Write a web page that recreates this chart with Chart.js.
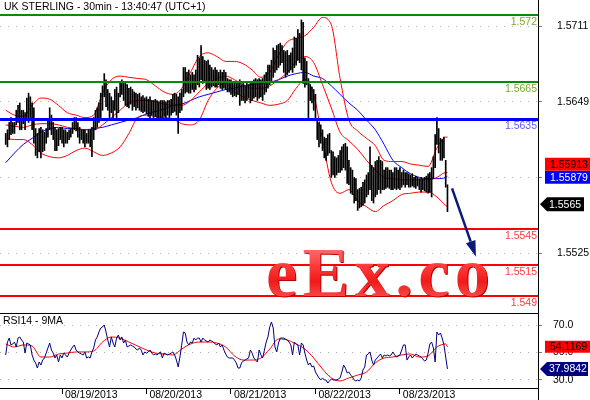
<!DOCTYPE html>
<html><head><meta charset="utf-8">
<script src="https://cdn.jsdelivr.net/npm/chart.js@4.4.0/dist/chart.umd.min.js"></script>
<style>
html,body{margin:0;padding:0;background:#fff;width:590px;height:400px;overflow:hidden;}
#wrap{position:relative;width:590px;height:400px;}
#main{position:absolute;left:0;top:0;}
#rsi{position:absolute;left:0;top:313px;}
#wm{position:absolute;left:266px;top:238px;font:bold 70px "Liberation Serif","DejaVu Serif",serif;line-height:70px;letter-spacing:5.5px;white-space:nowrap;
  background:linear-gradient(180deg,#ff8c8c 0%,#ff3b3b 40%,#f01a1a 62%,#ff6a6a 100%);-webkit-background-clip:text;background-clip:text;color:transparent;
  filter:drop-shadow(1px 1px 0 #b80000);}
</style></head>
<body><div id="wrap">
<canvas id="main" width="590" height="313"></canvas>
<canvas id="rsi" width="590" height="87"></canvas>
<div id="wm">eEx.co</div>
</div>
<script>
// ---------- DATA ----------
const chartTitle = 'UK STERLING - 30min - 13:40:47 (UTC+1)';
const rsiTitle = 'RSI14 - 9MA';
const priceMin = 1.547595, priceMax = 1.57323;
const xMin = -3.24, xMax = 302.44;
const priceTicks = [1.5711, 1.5649, 1.5587, 1.5525];
const rsiMin = 24.18, rsiMax = 78.73;
const rsiTicks = [70, 50, 30];
const dayTicks = [32, 80, 128, 176, 224];
const dayLabels = ['08/19/2013', '08/20/2013', '08/21/2013', '08/22/2013', '08/23/2013'];

const highs = [
1.5623,1.5626,1.5632,1.5636,1.5632,1.5632,1.5642,1.5646,1.5648,1.5642,
1.5642,1.5640,1.5652,1.5656,1.5653,1.5648,1.5644,1.5627,1.5623,1.5627,
1.5628,1.5626,1.5624,1.5627,1.5634,1.5644,1.5638,1.5632,1.5628,1.5626,
1.5627,1.5628,1.5628,1.5626,1.5626,1.5624,1.5626,1.5627,1.5632,1.5636,
1.5636,1.5632,1.5628,1.5626,1.5626,1.5626,1.5623,1.5626,1.5626,1.5628,
1.5636,1.5642,1.5644,1.5648,1.5656,1.5662,1.5672,1.5667,1.5659,1.5656,
1.5653,1.5650,1.5659,1.5661,1.5656,1.5665,1.5667,1.5664,1.5665,1.5663,
1.5660,1.5661,1.5659,1.5657,1.5656,1.5655,1.5656,1.5653,1.5654,1.5652,
1.5653,1.5651,1.5653,1.5650,1.5650,1.5651,1.5650,1.5649,1.5650,1.5650,
1.5650,1.5649,1.5650,1.5650,1.5651,1.5655,1.5656,1.5655,1.5653,1.5656,
1.5659,1.5677,1.5677,1.5673,1.5675,1.5671,1.5673,1.5671,1.5675,1.5687,
1.5685,1.5695,1.5686,1.5683,1.5682,1.5683,1.5679,1.5677,1.5675,1.5677,
1.5675,1.5673,1.5675,1.5673,1.5675,1.5673,1.5668,1.5667,1.5667,1.5665,
1.5665,1.5664,1.5665,1.5667,1.5663,1.5664,1.5662,1.5664,1.5663,1.5664,
1.5665,1.5667,1.5668,1.5667,1.5668,1.5667,1.5668,1.5671,1.5673,1.5679,
1.5679,1.5683,1.5693,1.5691,1.5695,1.5696,1.5697,1.5695,1.5691,1.5690,
1.5691,1.5687,1.5689,1.5693,1.5702,1.5701,1.5708,1.5705,1.5716,1.5714,
1.5685,1.5682,1.5668,1.5663,1.5661,1.5659,1.5655,1.5634,1.5632,1.5630,
1.5626,1.5620,1.5619,1.5622,1.5623,1.5609,1.5608,1.5604,1.5603,1.5605,
1.5609,1.5612,1.5614,1.5615,1.5612,1.5601,1.5595,1.5593,1.5587,1.5586,
1.5577,1.5578,1.5579,1.5583,1.5585,1.5589,1.5591,1.5612,1.5597,1.5595,
1.5600,1.5601,1.5604,1.5601,1.5600,1.5593,1.5595,1.5595,1.5593,1.5593,
1.5591,1.5595,1.5595,1.5593,1.5595,1.5591,1.5593,1.5591,1.5591,1.5590,
1.5589,1.5590,1.5587,1.5588,1.5587,1.5586,1.5587,1.5586,1.5587,1.5588,
1.5590,1.5591,1.5595,1.5604,1.5622,1.5636,1.5627,1.5619,1.5618,1.5620,
1.5601,1.5581];
const lows = [
1.5614,1.5612,1.5618,1.5622,1.5623,1.5623,1.5630,1.5632,1.5626,1.5626,
1.5631,1.5626,1.5636,1.5632,1.5636,1.5626,1.5615,1.5605,1.5603,1.5608,
1.5603,1.5608,1.5609,1.5615,1.5620,1.5626,1.5622,1.5618,1.5609,1.5609,
1.5613,1.5618,1.5615,1.5612,1.5615,1.5615,1.5618,1.5620,1.5623,1.5626,
1.5625,1.5620,1.5615,1.5618,1.5615,1.5612,1.5615,1.5615,1.5612,1.5604,
1.5618,1.5626,1.5628,1.5632,1.5636,1.5642,1.5653,1.5645,1.5642,1.5636,
1.5640,1.5636,1.5642,1.5636,1.5640,1.5653,1.5655,1.5650,1.5646,1.5645,
1.5644,1.5647,1.5642,1.5645,1.5642,1.5644,1.5642,1.5641,1.5640,1.5641,
1.5639,1.5637,1.5636,1.5638,1.5636,1.5637,1.5636,1.5636,1.5636,1.5636,
1.5637,1.5636,1.5638,1.5636,1.5638,1.5640,1.5641,1.5638,1.5623,1.5640,
1.5642,1.5653,1.5656,1.5657,1.5656,1.5656,1.5659,1.5657,1.5659,1.5663,
1.5661,1.5667,1.5664,1.5665,1.5659,1.5660,1.5659,1.5661,1.5662,1.5661,
1.5661,1.5663,1.5660,1.5659,1.5660,1.5659,1.5657,1.5657,1.5655,1.5653,
1.5654,1.5653,1.5655,1.5646,1.5650,1.5650,1.5648,1.5650,1.5652,1.5648,
1.5650,1.5652,1.5653,1.5650,1.5652,1.5653,1.5650,1.5655,1.5657,1.5660,
1.5663,1.5665,1.5669,1.5673,1.5675,1.5677,1.5679,1.5681,1.5673,1.5669,
1.5671,1.5673,1.5675,1.5673,1.5677,1.5679,1.5683,1.5681,1.5675,1.5664,
1.5661,1.5663,1.5636,1.5650,1.5648,1.5642,1.5634,1.5618,1.5612,1.5615,
1.5609,1.5603,1.5601,1.5605,1.5607,1.5587,1.5589,1.5587,1.5589,1.5591,
1.5591,1.5593,1.5595,1.5593,1.5582,1.5581,1.5574,1.5573,1.5566,1.5568,
1.5560,1.5562,1.5563,1.5564,1.5566,1.5571,1.5573,1.5577,1.5568,1.5566,
1.5571,1.5573,1.5577,1.5574,1.5577,1.5577,1.5578,1.5579,1.5578,1.5577,
1.5577,1.5578,1.5577,1.5578,1.5577,1.5579,1.5581,1.5579,1.5581,1.5579,
1.5579,1.5580,1.5579,1.5578,1.5580,1.5577,1.5575,1.5577,1.5576,1.5575,
1.5574,1.5575,1.5571,1.5586,1.5595,1.5614,1.5607,1.5601,1.5601,1.5603,
1.5579,1.5559];

const bandIdx = [0,5,10,15,20,25,30,35,40,45,50,55,60,65,70,75,80,85,90,95,100,105,110,115,120,125,130,135,140,145,150,155,160,165,170,175,180,185,190,195,200,205,210,215,220,225,230,235,240,245,250,251];
const bbUpper = [1.5642,1.5638,1.5637,1.5646,1.5652,1.5651,1.5646,1.5640,1.5638,1.5636,1.5638,1.5656,1.5667,1.5670,1.5669,1.5668,1.5667,1.5662,1.5657,1.5655,1.5660,1.5673,1.5686,1.5689,1.5686,1.5682,1.5682,1.5680,1.5675,1.5669,1.5673,1.5687,1.5698,1.5701,1.5703,1.5710,1.5718,1.5712,1.5668,1.5634,1.5625,1.5619,1.5613,1.5601,1.5600,1.5600,1.5598,1.5597,1.5596,1.5611,1.5620,1.5620];
const bbMiddle = [1.5630,1.5629,1.5628,1.5630,1.5631,1.5631,1.5630,1.5628,1.5627,1.5626,1.5626,1.5630,1.5636,1.5642,1.5648,1.5650,1.5650,1.5649,1.5647,1.5646,1.5646,1.5650,1.5657,1.5664,1.5668,1.5670,1.5667,1.5663,1.5660,1.5660,1.5662,1.5667,1.5673,1.5682,1.5686,1.5681,1.5663,1.5644,1.5624,1.5617,1.5610,1.5601,1.5593,1.5587,1.5586,1.5585,1.5585,1.5585,1.5585,1.5587,1.5591,1.5591];
const bbLower = [1.5619,1.5618,1.5618,1.5614,1.5607,1.5604,1.5603,1.5605,1.5609,1.5611,1.5608,1.5605,1.5607,1.5612,1.5623,1.5636,1.5638,1.5637,1.5636,1.5635,1.5631,1.5630,1.5634,1.5650,1.5660,1.5664,1.5657,1.5653,1.5650,1.5648,1.5646,1.5647,1.5650,1.5660,1.5667,1.5655,1.5618,1.5583,1.5574,1.5577,1.5568,1.5563,1.5559,1.5564,1.5568,1.5573,1.5574,1.5575,1.5575,1.5571,1.5564,1.5563];
const maBlue = [1.5599,1.5607,1.5614,1.5619,1.5624,1.5627,1.5628,1.5627,1.5627,1.5626,1.5627,1.5628,1.5630,1.5632,1.5634,1.5636,1.5639,1.5641,1.5643,1.5646,1.5647,1.5650,1.5653,1.5655,1.5657,1.5659,1.5660,1.5662,1.5663,1.5664,1.5665,1.5667,1.5670,1.5672,1.5673,1.5670,1.5668,1.5662,1.5655,1.5648,1.5642,1.5634,1.5626,1.5614,1.5601,1.5595,1.5590,1.5587,1.5586,1.5586,1.5587,1.5588];

const levelValues = [1.572, 1.5665, 1.5635, 1.5545, 1.5515, 1.549];
const levelLabels = ['1.572', '1.5665', '1.5635', '1.5545', '1.5515', '1.549'];
const levelColors = ['#0a8a0a', '#0a8a0a', '#0000ff', '#ff0000', '#ff0000', '#ff0000'];
const levelTextColors = ['#78a82a', '#78a82a', '#5c5cff', '#ff3a3a', '#ff3a3a', '#ff3a3a'];
const levelWidths = [2, 2, 3, 2, 2, 2];

const lastBB = 1.55913, lastMA = 1.55879, lastPrice = 1.5565;
const arrowFrom = {x: 253.6, y: 1.5578}, arrowTo = {x: 267.2, y: 1.5522};

const rsi = [
48.2,57.6,60.5,55.5,56.2,57.6,54.0,60.5,61.3,59.1,
57.6,49.6,56.9,56.2,55.5,48.2,44.5,42.4,38.7,43.1,
40.9,44.5,46.0,49.6,53.3,56.9,51.8,49.6,46.0,48.2,
43.1,48.2,46.0,49.6,48.2,46.7,49.6,51.8,54.0,55.5,
51.8,50.4,49.6,48.9,48.2,50.4,46.0,46.7,46.0,50.4,
53.3,59.1,61.3,64.9,67.8,68.5,70.0,64.9,59.1,54.0,
61.3,56.9,54.0,60.5,62.7,59.1,61.3,56.9,59.1,54.0,
54.7,55.5,54.7,54.0,52.5,51.8,53.3,51.8,48.2,50.4,
49.6,50.4,51.8,49.6,48.2,48.9,48.2,49.6,50.4,46.0,
49.6,48.9,48.2,48.9,49.6,50.4,48.2,44.5,39.5,46.7,
55.5,64.9,64.2,57.6,55.5,57.6,56.9,60.5,59.1,60.5,
60.5,57.6,60.5,59.1,58.4,57.6,59.1,58.4,57.6,56.2,
55.5,56.9,54.0,55.5,51.8,48.9,46.7,46.0,46.0,46.0,
44.5,42.4,38.7,38.7,42.4,43.8,44.5,45.3,46.0,51.8,
49.6,46.0,44.5,43.1,51.8,48.2,46.0,51.8,57.6,61.3,
68.5,72.2,67.8,54.0,50.4,56.9,60.5,60.5,60.5,59.8,
59.1,57.6,55.5,48.2,57.6,56.2,55.5,48.2,56.9,55.5,
49.6,44.5,40.9,42.4,39.5,40.2,35.8,33.6,31.5,30.0,
31.5,30.0,30.0,27.8,29.3,30.7,30.0,30.0,30.0,30.7,
31.5,35.8,40.9,38.7,35.1,35.8,33.6,32.2,30.0,29.3,
30.0,29.3,31.5,37.3,39.5,48.2,48.9,50.4,44.5,40.9,
44.5,46.0,47.5,48.9,46.0,48.2,47.5,48.2,47.5,48.2,
50.4,48.2,46.7,47.5,48.2,51.8,55.5,55.5,44.5,46.7,
48.2,46.0,47.5,48.9,48.2,47.5,46.7,45.3,43.8,44.5,
49.6,56.2,57.6,53.3,43.1,64.9,62.7,64.2,60.5,55.5,
46.7,38.0];
const rsiMA = [56.2,54.0,55.5,54.7,46.7,46.7,48.9,49.6,50.4,50.4,51.1,57.6,61.3,60.5,57.6,54.7,51.8,49.6,48.9,48.2,52.5,56.2,57.6,57.6,56.9,54.0,47.5,44.5,44.5,46.0,52.5,59.8,59.1,56.2,52.5,46.0,38.0,31.5,29.3,31.5,33.6,35.8,42.4,46.0,46.7,48.2,48.9,46.7,47.5,54.0,56.2,54.1];
const lastRsiMA = 54.1169, lastRsi = 37.9842;

// ---------- STYLE ----------
const FAM = '"Liberation Sans", Arial, sans-serif';
const FS = 10.5;
const FONT = FS + 'px ' + FAM;

function drawBox(ctx, left, right, yc, h, bg, fg, text, pointer) {
  ctx.fillStyle = bg;
  ctx.beginPath();
  if (pointer) {
    ctx.moveTo(left, yc);
    ctx.lineTo(left + 7, yc - h / 2);
    ctx.lineTo(right, yc - h / 2);
    ctx.lineTo(right, yc + h / 2);
    ctx.lineTo(left + 7, yc + h / 2);
    ctx.closePath();
  } else {
    ctx.rect(left, yc - h / 2, right - left, h);
  }
  ctx.fill();
  ctx.fillStyle = fg; ctx.font = FONT; ctx.textAlign = 'left'; ctx.textBaseline = 'middle';
  ctx.fillText(text, pointer ? left + 9 : left + 5, yc + 0.5);
}

const mainPlugin = {
  id: 'mainDeco',
  afterDatasetsDraw(chart) {
    const {ctx, chartArea: a, scales: {x, y}} = chart;
    ctx.save();
    levelValues.forEach((v, k) => {
      let py = Math.round(y.getPixelForValue(v));
      if (levelWidths[k] % 2 === 1) py += 0.5;
      ctx.strokeStyle = levelColors[k]; ctx.lineWidth = levelWidths[k];
      ctx.beginPath(); ctx.moveTo(a.left, py); ctx.lineTo(a.right, py); ctx.stroke();
    });
    // forecast arrow
    const x1 = x.getPixelForValue(arrowFrom.x), y1 = y.getPixelForValue(arrowFrom.y);
    const x2 = x.getPixelForValue(arrowTo.x), y2 = y.getPixelForValue(arrowTo.y);
    const ang = Math.atan2(y2 - y1, x2 - x1);
    const head = 16, half = 5;
    const bx = x2 - head * Math.cos(ang), by = y2 - head * Math.sin(ang);
    ctx.strokeStyle = '#0a1a7a'; ctx.fillStyle = '#0a1a7a'; ctx.lineWidth = 2.5;
    ctx.beginPath(); ctx.moveTo(x1, y1); ctx.lineTo(bx, by); ctx.stroke();
    ctx.beginPath();
    ctx.moveTo(x2, y2);
    ctx.lineTo(bx + half * Math.sin(ang), by - half * Math.cos(ang));
    ctx.lineTo(bx - half * Math.sin(ang), by + half * Math.cos(ang));
    ctx.closePath(); ctx.fill();
    ctx.restore();
  },
  afterDraw(chart) {
    const {ctx, chartArea: a, scales: {y}} = chart;
    ctx.save();
    ctx.font = FONT;
    ctx.textAlign = 'right'; ctx.textBaseline = 'middle';
    levelValues.forEach((v, k) => {
      ctx.fillStyle = levelTextColors[k];
      ctx.fillText(levelLabels[k], a.right - 1, y.getPixelForValue(v) + 7);
    });
    // title
    ctx.fillStyle = '#000'; ctx.textAlign = 'left';
    ctx.fillText(chartTitle, 4, 7.5);
    // border
    ctx.strokeStyle = '#000'; ctx.lineWidth = 1;
    ctx.beginPath(); ctx.moveTo(a.right + 0.5, 0); ctx.lineTo(a.right + 0.5, chart.height); ctx.stroke();
    // value boxes
    const W = chart.width;
    const yMA = y.getPixelForValue(lastMA) + 1;
    drawBox(ctx, a.right + 7, W, yMA, 13, '#0000ff', '#fff', lastMA.toFixed(5), false);
    drawBox(ctx, a.right + 7, W, yMA - 13, 13, '#ff0000', '#000', lastBB.toFixed(5), false);
    drawBox(ctx, a.right + 2, a.right + 46, y.getPixelForValue(lastPrice), 14, '#000', '#fff', lastPrice.toFixed(4), true);
    ctx.restore();
  }
};

const rsiPlugin = {
  id: 'rsiDeco',
  afterDraw(chart) {
    const {ctx, chartArea: a, scales: {y}} = chart;
    ctx.save();
    ctx.strokeStyle = '#000'; ctx.lineWidth = 1;
    ctx.beginPath();
    ctx.moveTo(0, a.top + 0.5); ctx.lineTo(a.right, a.top + 0.5);
    ctx.moveTo(0, a.bottom + 0.5); ctx.lineTo(a.right, a.bottom + 0.5);
    ctx.moveTo(a.right + 0.5, 0); ctx.lineTo(a.right + 0.5, chart.height);
    ctx.stroke();
    ctx.font = FONT; ctx.fillStyle = '#000'; ctx.textAlign = 'left'; ctx.textBaseline = 'middle';
    ctx.fillText(rsiTitle, 3, a.top + 8);
    const W = chart.width;
    drawBox(ctx, a.right + 7, W, y.getPixelForValue(lastRsiMA), 12, '#ff0000', '#000', lastRsiMA.toFixed(4), false);
    drawBox(ctx, a.right + 2, W - 2, y.getPixelForValue(lastRsi), 14, '#000080', '#fff', lastRsi.toFixed(4), true);
    ctx.restore();
  }
};

function lineDs(idx, vals, color) {
  return {type: 'line', data: idx.map((x, k) => ({x: x, y: vals[k]})), borderColor: color, borderWidth: 1,
    pointRadius: 0, cubicInterpolationMode: 'monotone', fill: false, order: 1};
}

const yAxisCommon = (min, max, tickVals, digits, pad) => ({
  position: 'right', min: min, max: max,
  afterBuildTicks(s) { s.ticks = tickVals.map(v => ({value: v})); },
  afterFit(s) { s.width = 52; s.paddingTop = 0; s.paddingBottom = 0; },
  ticks: {callback: v => Number(v).toFixed(digits), color: '#000', font: {family: FAM, size: FS}, padding: pad},
  grid: {color: '#b0b0b0', lineWidth: 1, tickColor: '#808080', tickLength: 4, tickBorderDash: []},
  border: {display: false, dash: [1, 7]}
});

new Chart(document.getElementById('main'), {
  type: 'bar',
  data: {datasets: [
    {type: 'bar', data: highs.map((h, i) => ({x: i, y: [lows[i], h]})), backgroundColor: '#000', barThickness: 1, order: 0},
    lineDs(bandIdx, bbUpper, '#ff0000'),
    lineDs(bandIdx, bbMiddle, '#ff0000'),
    lineDs(bandIdx, bbLower, '#ff0000'),
    lineDs(bandIdx, maBlue, '#0000ff')
  ]},
  options: {
    responsive: false, animation: false, devicePixelRatio: 1,
    layout: {padding: 0},
    plugins: {legend: {display: false}, tooltip: {enabled: false}, title: {display: false}},
    scales: {
      x: {type: 'linear', display: false, min: xMin, max: xMax, offset: false},
      y: yAxisCommon(priceMin, priceMax, priceTicks, 4, 15)
    }
  },
  plugins: [mainPlugin]
});

new Chart(document.getElementById('rsi'), {
  type: 'line',
  data: {datasets: [
    {data: rsi.map((v, i) => ({x: i, y: v})), borderColor: '#000080', borderWidth: 1, pointRadius: 0, tension: 0, fill: false, order: 0},
    {data: bandIdx.map((x, k) => ({x: x, y: rsiMA[k]})), borderColor: '#ff0000', borderWidth: 1, pointRadius: 0, cubicInterpolationMode: 'monotone', fill: false, order: 1}
  ]},
  options: {
    responsive: false, animation: false, devicePixelRatio: 1,
    layout: {padding: 0},
    plugins: {legend: {display: false}, tooltip: {enabled: false}},
    scales: {
      x: {type: 'linear', position: 'bottom', min: xMin, max: xMax, offset: false,
        afterBuildTicks(s) { s.ticks = dayTicks.map(v => ({value: v})); },
        afterFit(s) { s.height = 12; s.paddingLeft = 0; s.paddingRight = 0; },
        ticks: {autoSkip: false, maxRotation: 0, minRotation: 0, align: 'start', padding: -5, color: '#000',
          font: {family: FAM, size: FS}, callback: v => ' ' + dayLabels[dayTicks.indexOf(v)]},
        grid: {drawOnChartArea: false, tickLength: 6, tickColor: '#000'},
        border: {display: false}
      },
      y: yAxisCommon(rsiMin, rsiMax, rsiTicks, 1, 11)
    }
  },
  plugins: [rsiPlugin]
});
</script></body></html>
